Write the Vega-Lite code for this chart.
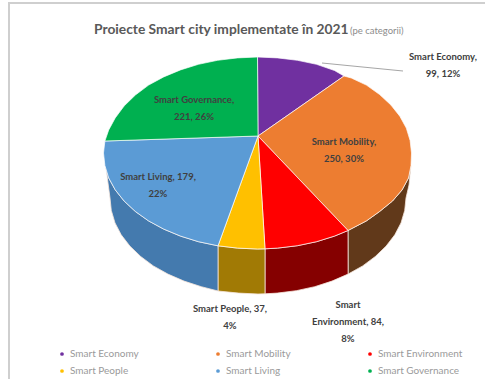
{
"$schema":"https://vega.github.io/schema/vega-lite/v6.json",
"width":485,"height":379,"padding":0,"autosize":{"type":"none"},
"background":"#ffffff",
"view":{"stroke":null},
"datasets":{
"frame":[{"x":9,"y":379,"n":1},{"x":9,"y":3,"n":2},{"x":485,"y":3,"n":3}],
"leader":[{"x":322,"y":63,"n":1},{"x":403,"y":71,"n":2}],
"heading":[{"text":"Proiecte Smart city implementate în 2021","x":94,"y":30}],
"subheading":[{"text":"(pe categorii)","x":350,"y":31}],
"labels":[
{"category":"Smart Economy","value":99,"percent":"12%","text":"Smart Economy,\n99, 12%","x":443,"y":57},
{"category":"Smart Mobility","value":250,"percent":"30%","text":"Smart Mobility,\n250, 30%","x":344,"y":142},
{"category":"Smart Environment","value":84,"percent":"8%","text":"Smart\nEnvironment, 84,\n8%","x":348,"y":305},
{"category":"Smart People","value":37,"percent":"4%","text":"Smart People, 37,\n4%","x":230,"y":309},
{"category":"Smart Living","value":179,"percent":"22%","text":"Smart Living, 179,\n22%","x":158,"y":177},
{"category":"Smart Governance","value":221,"percent":"26%","text":"Smart Governance,\n221, 26%","x":194,"y":100}
],
"sides":[
{"c":"Smart Mobility","n":1,"x":348,"y":230.5},{"c":"Smart Mobility","n":2,"x":366.4,"y":220.9},{"c":"Smart Mobility","n":3,"x":379.6,"y":211.5},{"c":"Smart Mobility","n":4,"x":392.5,"y":201},{"c":"Smart Mobility","n":5,"x":402,"y":190},{"c":"Smart Mobility","n":6,"x":408.5,"y":178},{"c":"Smart Mobility","n":7,"x":411,"y":165.5},{"c":"Smart Mobility","n":8,"x":409,"y":185},{"c":"Smart Mobility","n":9,"x":406,"y":198},{"c":"Smart Mobility","n":10,"x":404.7,"y":210.5},{"c":"Smart Mobility","n":11,"x":401,"y":222.9},{"c":"Smart Mobility","n":12,"x":394.8,"y":234.8},{"c":"Smart Mobility","n":13,"x":386.2,"y":246},{"c":"Smart Mobility","n":14,"x":375.3,"y":256.5},{"c":"Smart Mobility","n":15,"x":362.7,"y":265.9},{"c":"Smart Mobility","n":16,"x":348.1,"y":274.1},{"c":"Smart Mobility","n":17,"x":348,"y":230.5},
{"c":"Smart Environment","n":1,"x":348,"y":230.5},{"c":"Smart Environment","n":2,"x":334.5,"y":236.1},{"c":"Smart Environment","n":3,"x":316.5,"y":241.7},{"c":"Smart Environment","n":4,"x":297.4,"y":245.7},{"c":"Smart Environment","n":5,"x":277.6,"y":248.1},{"c":"Smart Environment","n":6,"x":265,"y":248.8},{"c":"Smart Environment","n":7,"x":265,"y":293.8},{"c":"Smart Environment","n":8,"x":277.3,"y":293.1},{"c":"Smart Environment","n":9,"x":296.3,"y":290.7},{"c":"Smart Environment","n":10,"x":314.7,"y":286.7},{"c":"Smart Environment","n":11,"x":332,"y":281.1},{"c":"Smart Environment","n":12,"x":348.1,"y":274.1},{"c":"Smart Environment","n":13,"x":348,"y":230.5},
{"c":"Smart People","n":1,"x":265,"y":248.8},{"c":"Smart People","n":2,"x":257.5,"y":249},{"c":"Smart People","n":3,"x":237.4,"y":248.1},{"c":"Smart People","n":4,"x":218,"y":245.8},{"c":"Smart People","n":5,"x":218,"y":291},{"c":"Smart People","n":6,"x":238.7,"y":293.1},{"c":"Smart People","n":7,"x":258,"y":294},{"c":"Smart People","n":8,"x":265,"y":293.8},{"c":"Smart People","n":9,"x":265,"y":248.8},
{"c":"Smart Living","n":1,"x":218,"y":245.8},{"c":"Smart Living","n":2,"x":198.5,"y":241.7},{"c":"Smart Living","n":3,"x":180.5,"y":236.1},{"c":"Smart Living","n":4,"x":163.7,"y":229.1},{"c":"Smart Living","n":5,"x":148.6,"y":220.9},{"c":"Smart Living","n":6,"x":135.4,"y":211.5},{"c":"Smart Living","n":7,"x":124.1,"y":201},{"c":"Smart Living","n":8,"x":115.2,"y":189.8},{"c":"Smart Living","n":9,"x":108.7,"y":177.9},{"c":"Smart Living","n":10,"x":106,"y":168},{"c":"Smart Living","n":11,"x":110,"y":198},{"c":"Smart Living","n":12,"x":111.3,"y":210.5},{"c":"Smart Living","n":13,"x":115,"y":222.9},{"c":"Smart Living","n":14,"x":121.2,"y":234.8},{"c":"Smart Living","n":15,"x":129.8,"y":246},{"c":"Smart Living","n":16,"x":140.7,"y":256.5},{"c":"Smart Living","n":17,"x":153.3,"y":265.9},{"c":"Smart Living","n":18,"x":167.9,"y":274.1},{"c":"Smart Living","n":19,"x":184,"y":281.1},{"c":"Smart Living","n":20,"x":201.3,"y":286.7},{"c":"Smart Living","n":21,"x":218,"y":291},{"c":"Smart Living","n":22,"x":218,"y":245.8}
],
"faces":[
{"c":"Smart Economy","n":1,"x":258,"y":136},{"c":"Smart Economy","n":2,"x":257.5,"y":57},{"c":"Smart Economy","n":3,"x":277.6,"y":57.9},{"c":"Smart Economy","n":4,"x":297.4,"y":60.3},{"c":"Smart Economy","n":5,"x":316.5,"y":64.3},{"c":"Smart Economy","n":6,"x":334.5,"y":70.5},{"c":"Smart Economy","n":7,"x":344,"y":76},{"c":"Smart Economy","n":8,"x":258,"y":136},
{"c":"Smart Mobility","n":1,"x":258,"y":136},{"c":"Smart Mobility","n":2,"x":344,"y":76},{"c":"Smart Mobility","n":3,"x":351.3,"y":78},{"c":"Smart Mobility","n":4,"x":366.4,"y":85.1},{"c":"Smart Mobility","n":5,"x":379.6,"y":94.5},{"c":"Smart Mobility","n":6,"x":390.9,"y":105},{"c":"Smart Mobility","n":7,"x":399.8,"y":116.2},{"c":"Smart Mobility","n":8,"x":406.3,"y":128.1},{"c":"Smart Mobility","n":9,"x":410.1,"y":140.5},{"c":"Smart Mobility","n":10,"x":411.5,"y":153},{"c":"Smart Mobility","n":11,"x":411,"y":165.5},{"c":"Smart Mobility","n":12,"x":408.5,"y":178},{"c":"Smart Mobility","n":13,"x":402,"y":190},{"c":"Smart Mobility","n":14,"x":392.5,"y":201},{"c":"Smart Mobility","n":15,"x":379.6,"y":211.5},{"c":"Smart Mobility","n":16,"x":366.4,"y":220.9},{"c":"Smart Mobility","n":17,"x":348,"y":230.5},{"c":"Smart Mobility","n":18,"x":258,"y":136},
{"c":"Smart Environment","n":1,"x":258,"y":136},{"c":"Smart Environment","n":2,"x":348,"y":230.5},{"c":"Smart Environment","n":3,"x":334.5,"y":236.1},{"c":"Smart Environment","n":4,"x":316.5,"y":241.7},{"c":"Smart Environment","n":5,"x":297.4,"y":245.7},{"c":"Smart Environment","n":6,"x":277.6,"y":248.1},{"c":"Smart Environment","n":7,"x":265,"y":248.8},{"c":"Smart Environment","n":8,"x":258,"y":136},
{"c":"Smart People","n":1,"x":258,"y":136},{"c":"Smart People","n":2,"x":265,"y":248.8},{"c":"Smart People","n":3,"x":257.5,"y":249},{"c":"Smart People","n":4,"x":237.4,"y":248.1},{"c":"Smart People","n":5,"x":218,"y":245.8},{"c":"Smart People","n":6,"x":258,"y":136},
{"c":"Smart Living","n":1,"x":258,"y":136},{"c":"Smart Living","n":2,"x":218,"y":245.8},{"c":"Smart Living","n":3,"x":198.5,"y":241.7},{"c":"Smart Living","n":4,"x":180.5,"y":236.1},{"c":"Smart Living","n":5,"x":163.7,"y":229.1},{"c":"Smart Living","n":6,"x":148.6,"y":220.9},{"c":"Smart Living","n":7,"x":135.4,"y":211.5},{"c":"Smart Living","n":8,"x":124.1,"y":201},{"c":"Smart Living","n":9,"x":115.2,"y":189.8},{"c":"Smart Living","n":10,"x":108.7,"y":177.9},{"c":"Smart Living","n":11,"x":104.9,"y":165.5},{"c":"Smart Living","n":12,"x":103.5,"y":153},{"c":"Smart Living","n":13,"x":104.9,"y":141},{"c":"Smart Living","n":14,"x":258,"y":136},
{"c":"Smart Governance","n":1,"x":258,"y":136},{"c":"Smart Governance","n":2,"x":104.9,"y":141},{"c":"Smart Governance","n":3,"x":108.7,"y":130},{"c":"Smart Governance","n":4,"x":115.2,"y":118},{"c":"Smart Governance","n":5,"x":124.1,"y":106},{"c":"Smart Governance","n":6,"x":135.4,"y":95},{"c":"Smart Governance","n":7,"x":148.6,"y":85.1},{"c":"Smart Governance","n":8,"x":163.7,"y":76.9},{"c":"Smart Governance","n":9,"x":180.5,"y":69.9},{"c":"Smart Governance","n":10,"x":198.5,"y":64.3},{"c":"Smart Governance","n":11,"x":217.6,"y":60.3},{"c":"Smart Governance","n":12,"x":237.4,"y":57.9},{"c":"Smart Governance","n":13,"x":257.5,"y":57},{"c":"Smart Governance","n":14,"x":258,"y":136}
]
},
"layer":[
{"data":{"name":"frame"},"mark":{"type":"line","stroke":"#cfcfcf","strokeWidth":2},
 "encoding":{"x":{"field":"x","type":"quantitative","scale":{"domain":[0,485],"nice":false,"zero":false},"axis":null},"y":{"field":"y","type":"quantitative","scale":{"domain":[379,0],"nice":false,"zero":false},"axis":null},"order":{"field":"n"}}},
{"data":{"name":"sides"},"mark":{"type":"line","stroke":"#f6e6dc","strokeWidth":0.8},
 "encoding":{"x":{"field":"x","type":"quantitative","axis":null},"y":{"field":"y","type":"quantitative","axis":null},"order":{"field":"n"},
 "fill":{"field":"c","type":"nominal","legend":null,"scale":{"domain":["Smart Mobility","Smart Environment","Smart People","Smart Living"],"range":["#61391A","#850000","#A17A05","#447AAE"]}}}},
{"data":{"name":"faces"},"mark":{"type":"line","stroke":"#ffffff","strokeWidth":0.9,"strokeOpacity":0.75},
 "encoding":{"x":{"field":"x","type":"quantitative","axis":null},"y":{"field":"y","type":"quantitative","axis":null},"order":{"field":"n"},
 "fill":{"field":"c","type":"nominal","scale":{"domain":["Smart Economy","Smart Mobility","Smart Environment","Smart People","Smart Living","Smart Governance"],"range":["#7030A0","#ED7D31","#FF0000","#FFC000","#5B9BD5","#00B050"]},
 "legend":{"title":null,"orient":"none","legendX":57,"legendY":347,"direction":"horizontal","columns":3,"columnPadding":74,"rowPadding":3,"symbolType":"circle","symbolSize":14,"symbolStrokeWidth":0,"labelFont":"Lato","labelFontSize":10,"labelColor":"#9a9a9a","labelOffset":3,"clipHeight":14}}}},
{"data":{"name":"leader"},"mark":{"type":"line","stroke":"#a6a6a6","strokeWidth":1},
 "encoding":{"x":{"field":"x","type":"quantitative","axis":null},"y":{"field":"y","type":"quantitative","axis":null},"order":{"field":"n"}}},
{"data":{"name":"labels"},"mark":{"type":"text","font":"Lato","fontSize":9.5,"fontWeight":"bold","color":"#404040","align":"center","baseline":"middle","lineBreak":"\n","lineHeight":17},
 "encoding":{"x":{"field":"x","type":"quantitative","axis":null},"y":{"field":"y","type":"quantitative","axis":null},"text":{"field":"text"}}},
{"data":{"name":"heading"},"mark":{"type":"text","font":"Lato","fontSize":13.8,"fontWeight":"bold","color":"#595959","align":"left","baseline":"middle"},
 "encoding":{"x":{"field":"x","type":"quantitative","axis":null},"y":{"field":"y","type":"quantitative","axis":null},"text":{"field":"text"}}},
{"data":{"name":"subheading"},"mark":{"type":"text","font":"Lato","fontSize":9.5,"color":"#8c8c8c","align":"left","baseline":"middle"},
 "encoding":{"x":{"field":"x","type":"quantitative","axis":null},"y":{"field":"y","type":"quantitative","axis":null},"text":{"field":"text"}}}
],
"resolve":{"scale":{"fill":"independent"}}
}
